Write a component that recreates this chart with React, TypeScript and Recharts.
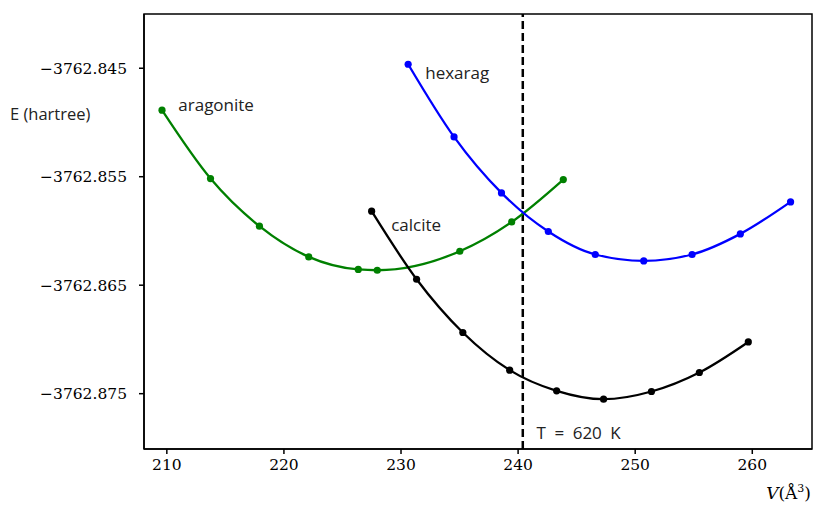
import { LineChart, Line, XAxis, YAxis, ReferenceLine, ReferenceDot, ReferenceArea } from "recharts";

// volumes (Å^3) and energies (hartree)
const aragoniteV = [209.59, 213.73, 217.91, 222.12, 226.35, 227.97, 235.02, 239.45, 243.86];
const aragoniteE = [-3762.84887, -3762.85517, -3762.85956, -3762.86239, -3762.86355, -3762.86362, -3762.86187, -3762.85917, -3762.85526];

const calciteV = [227.49, 231.33, 235.28, 239.28, 243.29, 247.3, 251.39, 255.48, 259.66];
const calciteE = [-3762.85818, -3762.86445, -3762.86936, -3762.87283, -3762.87474, -3762.87551, -3762.8748, -3762.87305, -3762.87023];

const hexaragV = [230.61, 234.53, 238.58, 242.58, 246.59, 250.73, 254.86, 258.98, 263.27];
const hexaragE = [-3762.84463, -3762.85133, -3762.85649, -3762.86005, -3762.86217, -3762.86276, -3762.86217, -3762.86027, -3762.85732];

const xTicks = [210, 220, 230, 240, 250, 260];
const yTicks = [-3762.875, -3762.865, -3762.855, -3762.845];

const xDomain: [number, number] = [208.05, 265.1];
const yDomain: [number, number] = [-3762.8801, -3762.84];

const transitionV = 240.4;

const toPoints = (vs: number[], es: number[]) => vs.map((v, i) => ({ v, e: es[i] }));

const series = [
  { name: "aragonite", color: "#008000", data: toPoints(aragoniteV, aragoniteE) },
  { name: "calcite", color: "#000000", data: toPoints(calciteV, calciteE) },
  { name: "hexarag", color: "#0000ff", data: toPoints(hexaragV, hexaragE) },
];

const notes = [
  { text: "aragonite", v: 210.98, e: -3762.84841 },
  { text: "hexarag", v: 232.07, e: -3762.84546 },
  { text: "calcite", v: 229.16, e: -3762.85947 },
  { text: "T\u2002=\u2002620\u2002K", v: 241.58, e: -3762.87859 },
];

const serif = "'DejaVu Serif', serif";
const sans = "'Open Sans', sans-serif";

export default function App() {
  return (
    <div style={{ position: "absolute", left: 0, top: 0, width: 813, height: 510, background: "#fff" }}>
      <LineChart width={813} height={510} margin={{ top: 14, right: 1, left: 0, bottom: 0 }}>
        <XAxis
          type="number"
          dataKey="v"
          domain={xDomain}
          ticks={xTicks}
          allowDataOverflow
          height={61}
          tickSize={5}
          tickMargin={5}
          stroke="#000"
          strokeWidth={1.5}
          tick={{ fill: "#000", fontFamily: serif, fontSize: 15.5 }}
          label={{
            content: ({ viewBox }: any) => (
              <text x={viewBox.x + viewBox.width - 1} y={viewBox.y + 50} textAnchor="end" fontFamily={serif} fontSize={17} fill="#000">
                <tspan fontStyle="italic">V</tspan>
                <tspan>(Å</tspan>
                <tspan fontSize={11} dy={-7}>3</tspan>
                <tspan dy={7}>)</tspan>
              </text>
            ),
          }}
        />
        <YAxis
          type="number"
          dataKey="e"
          domain={yDomain}
          ticks={yTicks}
          allowDataOverflow
          width={144}
          tickSize={5}
          tickMargin={12}
          stroke="#000"
          strokeWidth={1.5}
          tickFormatter={(t: number) => "\u2212" + Math.abs(t).toFixed(3)}
          tick={{ fill: "#000", fontFamily: serif, fontSize: 15.5 }}
          label={{
            content: ({ viewBox }: any) => (
              <text x={10} y={viewBox.y + 99} dominantBaseline="central" fontFamily={sans} fontSize={16.5} fill="#222">
                E (hartree)
              </text>
            ),
          }}
        />
        {/* frame (top and right spines) */}
        <ReferenceArea x1={xDomain[0]} x2={xDomain[1]} y1={yDomain[0]} y2={yDomain[1]} fill="none" stroke="#000" strokeWidth={1.5} strokeOpacity={1} ifOverflow="extendDomain" />
        <ReferenceLine x={transitionV} stroke="#000" strokeWidth={2.5} strokeDasharray="8 4" />
        {series.map((s) => (
          <Line
            key={s.name}
            data={s.data}
            dataKey="e"
            type="monotone"
            stroke={s.color}
            strokeWidth={2.3}
            dot={{ r: 3.6, fill: s.color, stroke: s.color, strokeWidth: 0 }}
            isAnimationActive={false}
          />
        ))}
        {notes.map((n) => (
          <ReferenceDot
            key={n.text}
            x={n.v}
            y={n.e}
            r={0}
            stroke="none"
            fill="none"
            label={{ value: n.text, position: "right", offset: 0, fill: "#222", fontFamily: sans, fontSize: 17 }}
          />
        ))}
      </LineChart>
    </div>
  );
}
